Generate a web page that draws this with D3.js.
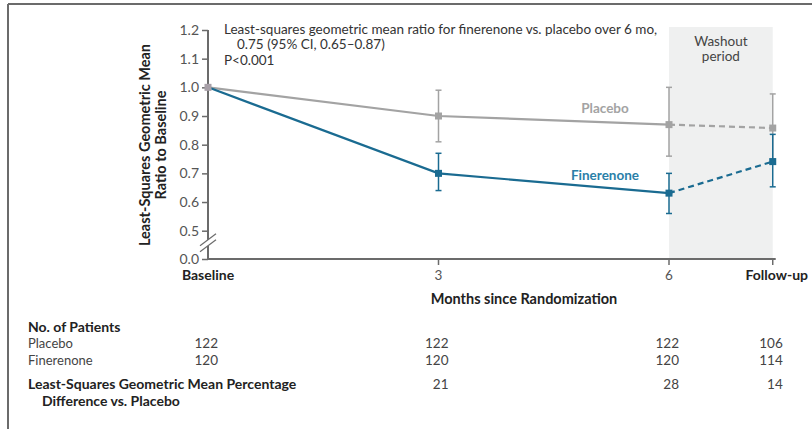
<!DOCTYPE html>
<html>
<head>
<meta charset="utf-8">
<script src="https://cdn.jsdelivr.net/npm/d3@7"></script>
<style>
body { margin: 0; background: #fff; }
svg { font-family: Lato, "Open Sans", sans-serif; }
</style>
</head>
<body>
<div id="chart"></div>
<script>
// time points (months; follow-up placed past month 6)
var timePos = [0, 3, 6, 7.35];
var timeLabels = ["Baseline", "3", "6", "Follow-up"];

var placeboMean = [1.0, 0.90, 0.87, 0.858];
var placeboLo = [null, 0.81, 0.76, 0.75];
var placeboHi = [null, 0.99, 1.00, 0.977];

var fineMean = [1.0, 0.70, 0.631, 0.741];
var fineLo = [null, 0.64, 0.56, 0.653];
var fineHi = [null, 0.77, 0.70, 0.836];

var yTicks = [0.0, 0.5, 0.6, 0.7, 0.8, 0.9, 1.0, 1.1, 1.2];

var patientsPlacebo = [122, 122, 122, 106];
var patientsFine = [120, 120, 120, 114];
var pctDiff = [null, 21, 28, 14];

var width = 812, height = 429;
var grey = "#a3a3a3", blue = "#1a6b91";

var svg = d3.select("#chart").append("svg")
  .attr("width", width)
  .attr("height", height);

// frame lines
svg.append("line").attr("x1", 8).attr("x2", width).attr("y1", 4).attr("y2", 4)
  .style("stroke", "#6b6b6b").style("stroke-width", 2);
svg.append("line").attr("x1", 8).attr("x2", 8).attr("y1", 4).attr("y2", height)
  .style("stroke", "#6b6b6b").style("stroke-width", 2);

var x = d3.scaleLinear().domain([0, 6]).range([208, 669]);
// broken axis: 0.0 then jump to 0.5
var y = d3.scaleLinear().domain([0, 0.5, 1.2]).range([259, 230.7, 30]);

// washout shading
svg.append("rect")
  .attr("x", x(6))
  .attr("y", 27)
  .attr("width", x(timePos[3]) - x(6))
  .attr("height", y(0) - 27)
  .style("fill", "#eff0f0");

svg.append("text")
  .attr("x", (x(6) + x(timePos[3])) / 2)
  .attr("y", 46)
  .attr("text-anchor", "middle")
  .style("font-size", "13.5px").style("fill", "#444")
  .text("Washout");
svg.append("text")
  .attr("x", (x(6) + x(timePos[3])) / 2)
  .attr("y", 61)
  .attr("text-anchor", "middle")
  .style("font-size", "13.5px").style("fill", "#444")
  .text("period");

// y axis
var yAxis = d3.axisLeft(y).tickValues(yTicks).tickSize(6).tickPadding(3)
  .tickFormat(d3.format(".1f"));
var gy = svg.append("g").attr("transform", "translate(" + x(0) + ",0)").call(yAxis);
gy.select(".domain").remove();
gy.selectAll(".tick line").style("stroke", "#6b6b6b").style("stroke-width", 1.5);
gy.selectAll(".tick text").style("font-size", "14px").style("fill", "#555")
  .style("font-family", "Lato, sans-serif");
svg.append("line").attr("x1", x(0)).attr("x2", x(0)).attr("y1", y(1.2)).attr("y2", y(0))
  .style("stroke", "#6b6b6b").style("stroke-width", 2);

// axis break
var yb = (y(0.5) + y(0)) / 2 - 2;
svg.append("rect").attr("x", x(0) - 3).attr("y", yb - 3).attr("width", 6).attr("height", 6)
  .style("fill", "#fff");
[-3, 3].forEach(function(o) {
  svg.append("line")
    .attr("x1", x(0) - 8).attr("y1", yb + o + 6)
    .attr("x2", x(0) + 8).attr("y2", yb + o - 6)
    .style("stroke", "#6b6b6b").style("stroke-width", 1.2);
});

// x axis
svg.append("line").attr("x1", x(0)).attr("x2", x(timePos[3]) + 3).attr("y1", y(0)).attr("y2", y(0))
  .style("stroke", "#6b6b6b").style("stroke-width", 2);
timePos.forEach(function(t, i) {
  if (i > 0) {
    svg.append("line").attr("x1", x(t)).attr("x2", x(t)).attr("y1", y(0)).attr("y2", y(0) + 6)
      .style("stroke", "#6b6b6b").style("stroke-width", 1.5);
  }
  svg.append("text")
    .attr("x", x(t) + (i == 3 ? 4 : 0))
    .attr("y", y(0) + 21)
    .attr("text-anchor", "middle")
    .style("font-size", (i == 0 || i == 3) ? "14px" : "13.5px")
    .style("font-weight", (i == 0 || i == 3) ? "bold" : "normal")
    .style("fill", (i == 0 || i == 3) ? "#222" : "#555")
    .text(timeLabels[i]);
});

svg.append("text")
  .attr("x", 524).attr("y", 304)
  .attr("text-anchor", "middle")
  .style("font-size", "14.5px").style("font-weight", "bold").style("fill", "#222")
  .text("Months since Randomization");

// y title
var yt = svg.append("text")
  .attr("transform", "translate(150,145) rotate(-90)")
  .attr("text-anchor", "middle")
  .style("font-size", "14.5px").style("font-weight", "bold").style("fill", "#222");
yt.append("tspan").attr("x", 0).attr("y", 0).text("Least-Squares Geometric Mean");
yt.append("tspan").attr("x", 0).attr("y", 16).text("Ratio to Baseline");

// annotation
svg.append("text").attr("x", 224).attr("y", 34)
  .style("font-size", "13.5px").style("fill", "#333")
  .text("Least-squares geometric mean ratio for finerenone vs. placebo over 6 mo,");
svg.append("text").attr("x", 237).attr("y", 49)
  .style("font-size", "13.5px").style("fill", "#333")
  .text("0.75 (95% CI, 0.65\u20130.87)");
svg.append("text").attr("x", 224).attr("y", 65)
  .style("font-size", "13.5px").style("fill", "#333")
  .text("P<0.001");

// series
function drawSeries(mean, lo, hi, color) {
  var pts = timePos.map(function(t, i) { return {t: t, v: mean[i], lo: lo[i], hi: hi[i]}; });
  var line = d3.line().x(function(d) { return x(d.t); }).y(function(d) { return y(d.v); });

  svg.append("path").datum(pts.slice(0, 3)).attr("d", line)
    .style("fill", "none").style("stroke", color).style("stroke-width", 2.2);
  svg.append("path").datum(pts.slice(2, 4)).attr("d", line)
    .style("fill", "none").style("stroke", color).style("stroke-width", 2.2)
    .style("stroke-dasharray", "6,4");

  var eb = svg.append("g").selectAll("g")
    .data(pts.filter(function(d) { return d.lo != null; }))
    .enter().append("g");
  eb.append("line")
    .attr("x1", function(d) { return x(d.t); }).attr("x2", function(d) { return x(d.t); })
    .attr("y1", function(d) { return y(d.lo); }).attr("y2", function(d) { return y(d.hi); })
    .style("stroke", color).style("stroke-width", 1.5);
  ["lo", "hi"].forEach(function(k) {
    eb.append("line")
      .attr("x1", function(d) { return x(d.t) - 3; }).attr("x2", function(d) { return x(d.t) + 3; })
      .attr("y1", function(d) { return y(d[k]); }).attr("y2", function(d) { return y(d[k]); })
      .style("stroke", color).style("stroke-width", 1.5);
  });

  svg.append("g").selectAll("rect")
    .data(pts.slice(1))
    .enter().append("rect")
    .attr("x", function(d) { return x(d.t) - 3.5; })
    .attr("y", function(d) { return y(d.v) - 3.5; })
    .attr("width", 7).attr("height", 7)
    .style("fill", color);
}

drawSeries(placeboMean, placeboLo, placeboHi, grey);
drawSeries(fineMean, fineLo, fineHi, blue);

// shared baseline point
svg.append("rect")
  .attr("x", x(0) - 3.5).attr("y", y(1.0) - 3.5).attr("width", 7).attr("height", 7)
  .style("fill", "#a8a0a8");

svg.append("text").attr("x", 605).attr("y", 113).attr("text-anchor", "middle")
  .style("font-size", "13.5px").style("font-weight", "bold").style("fill", grey)
  .text("Placebo");
svg.append("text").attr("x", 605).attr("y", 180).attr("text-anchor", "middle")
  .style("font-size", "13.5px").style("font-weight", "bold").style("fill", "#2a7fa8")
  .text("Finerenone");

// table
svg.append("text").attr("x", 28).attr("y", 332)
  .style("font-size", "14px").style("font-weight", "bold").style("fill", "#222")
  .text("No. of Patients");
svg.append("text").attr("x", 28).attr("y", 348)
  .style("font-size", "13px").style("fill", "#444").text("Placebo");
svg.append("text").attr("x", 28).attr("y", 365)
  .style("font-size", "13px").style("fill", "#444").text("Finerenone");
svg.append("text").attr("x", 28).attr("y", 389)
  .style("font-size", "14px").style("font-weight", "bold").style("fill", "#222")
  .text("Least-Squares Geometric Mean Percentage");
svg.append("text").attr("x", 42).attr("y", 406)
  .style("font-size", "14px").style("font-weight", "bold").style("fill", "#222")
  .text("Difference vs. Placebo");

function row(vals, yy) {
  svg.append("g").selectAll("text")
    .data(timePos.map(function(t, i) { return {t: t, v: vals[i]}; }).filter(function(d) { return d.v != null; }))
    .enter().append("text")
    .attr("x", function(d) { return x(d.t) + 10; })
    .attr("y", yy)
    .attr("text-anchor", "end")
    .style("font-size", "13.5px").style("fill", "#444")
    .text(function(d) { return d.v; });
}
row(patientsPlacebo, 348);
row(patientsFine, 365);
row(pctDiff, 389);
</script>
</body>
</html>
